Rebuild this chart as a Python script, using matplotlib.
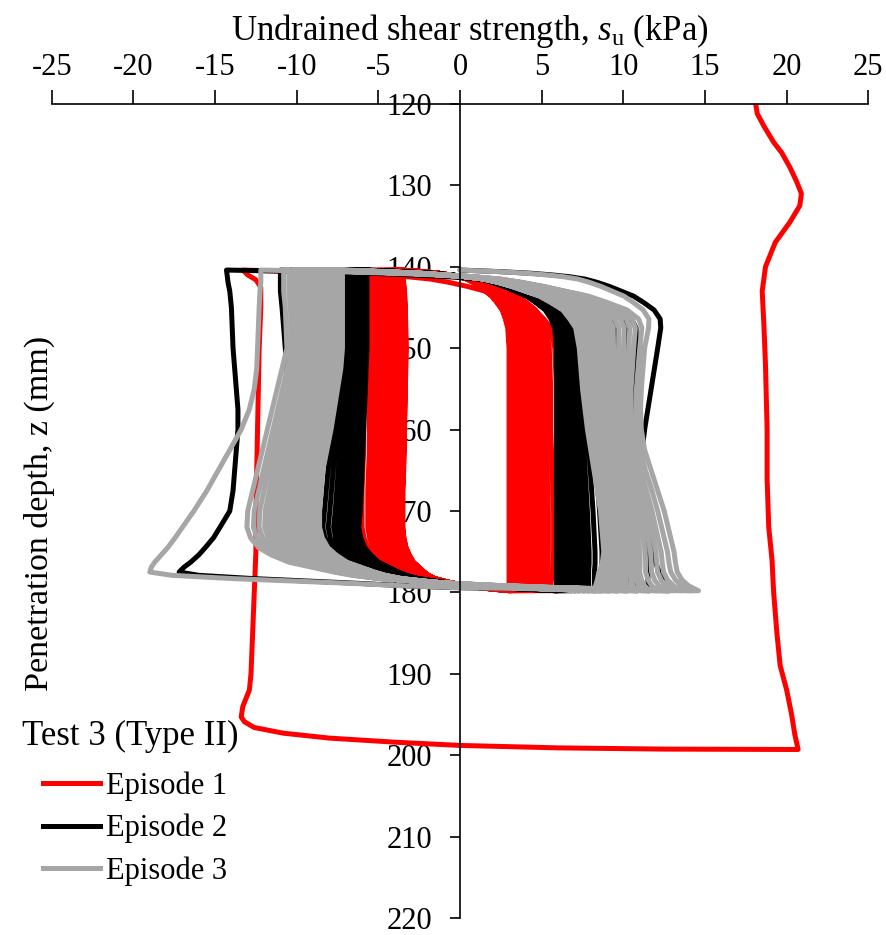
import numpy as np
import matplotlib
matplotlib.use("Agg")
import matplotlib.pyplot as plt
from matplotlib.lines import Line2D

plt.rcParams['font.family'] = ['Liberation Serif', 'DejaVu Serif']
plt.rcParams['mathtext.fontset'] = 'custom'
plt.rcParams['mathtext.rm'] = 'Liberation Serif'
plt.rcParams['mathtext.it'] = 'Liberation Serif:italic'
plt.rcParams['axes.unicode_minus'] = False

# ---------------- data ----------------
# Episode 1 monotonic penetration (z in mm, su in kPa)
Z_MONO = [120, 121.2, 122.7, 124.7, 126, 127.8, 129.5, 131, 132.5, 134.5, 137, 140,
          143, 147, 152, 160, 166, 172, 176, 180, 185, 189, 192, 195, 197.5, 199.3]
SU_MONO = [18.1, 18.2, 18.6, 19.2, 19.7, 20.2, 20.6, 20.9, 20.8, 20.2, 19.3, 18.7,
           18.5, 18.6, 18.7, 18.8, 18.8, 18.9, 19.1, 19.2, 19.4, 19.6, 20.0, 20.3, 20.5, 20.7]
# Episode 1 monotonic extraction
Z_MEXT = [199.3, 199.25, 199.1, 198.8, 198.4, 197.9, 197.3, 196.6, 195.9, 195.3, 194, 192,
          190, 185, 180, 175, 170, 160, 150, 145, 142.5, 141.6, 141.0, 140.4]
SU_MEXT = [20.7, 12.5, 6.0, 0.0, -4.0, -8.0, -10.8, -12.6, -13.2, -13.4, -13.3, -12.9,
           -12.8, -12.7, -12.6, -12.5, -12.5, -12.4, -12.3, -12.2, -12.2, -12.5, -13.0, -13.3]

# Cyclic penetration strokes (140 -> 180 mm); G = share of the reversal completed
Z_PEN = [140.4, 140.6, 140.8, 141.0, 141.2, 141.5, 141.9, 142.4, 142.9, 143.6, 144.4, 145.3,
         146.4, 147.5, 150, 152.5, 155, 157.5, 160, 162.5, 165, 167.5, 170, 172.5, 175,
         176.5, 177.5, 178.5, 179.2, 179.8]
G_PEN = [0, 0.2, 0.35, 0.45, 0.53, 0.61, 0.67, 0.73, 0.78, 0.85, 0.90, 0.95,
         0.98, 0.995, 1, 1, 1, 1, 1, 1, 1, 1, 1, 1, 1, 1, 1, 1, 1, 1]
# Cyclic extraction strokes (180 -> 140 mm)
Z_EXT = [179.8, 179.6, 179.4, 179.15, 178.9, 178.6, 178.3, 177.9, 177.5, 176.9, 176.3, 175.4,
         174.5, 173.3, 172, 170, 167.5, 165, 162.5, 160, 157.5, 155, 152.5, 150, 147.5,
         145, 143, 142, 141.2, 140.4]
G_EXT = [0, 0.16, 0.30, 0.43, 0.53, 0.62, 0.70, 0.76, 0.80, 0.85, 0.90, 0.94,
         0.97, 0.99, 1, 1, 1, 1, 1, 1, 1, 1, 1, 1, 1, 1, 1, 1, 1, 1]
G_EXT_FIRST = [0, 0.25, 0.45, 0.55, 0.63, 0.74, 0.85, 0.96, 1, 1, 1, 1,
               1, 1, 1, 1, 1, 1, 1, 1, 1, 1, 1, 1, 1, 1, 1, 1, 1, 1]

# steady penetration profiles at Z_PEN[12:] (146.4 ... 179.8 mm)
RED_PEN_OUTER = [5.5, 5.65, 5.8, 5.85, 5.9, 5.9, 5.9, 5.95, 6.0, 6.05, 6.1, 6.1, 6.1, 6.05, 6.0, 5.95, 5.9, 5.8]
RED_PEN_INNER = [2.9, 2.95, 3.0, 3.0, 3.0, 3.0, 3.0, 3.0, 3.0, 3.0, 3.0, 3.0, 3.0, 3.0, 3.0, 3.0, 3.0, 3.0]
BLACK_PEN_FIRST = [12.5, 12.35, 12.1, 11.9, 11.7, 11.5, 11.3, 11.15, 11.1, 11.15, 11.3, 11.5, 11.8, 12.0, 12.2, 12.4, 12.6, 12.8]
BLACK_PEN_OUTER = [11.0, 10.9, 10.8, 10.7, 10.6, 10.6, 10.6, 10.7, 10.9, 11.1, 11.3, 11.45, 11.6, 11.6, 11.5, 11.5, 11.55, 11.6]
BLACK_PEN_INNER = [5.8, 5.85, 5.9, 5.9, 5.9, 5.9, 5.9, 5.9, 5.9, 5.9, 5.9, 5.9, 5.9, 5.9, 5.9, 5.9, 5.9, 5.9]
GRAY_PEN_FIRST = [11.8, 11.6, 11.3, 11.2, 11.1, 11.05, 11.1, 11.3, 11.7, 12.1, 12.5, 12.8, 13.1, 13.2, 13.3, 13.6, 14.0, 14.6]
GRAY_PEN_OUTER = [11.4, 11.25, 11.0, 10.9, 10.8, 10.75, 10.8, 11.0, 11.35, 11.75, 12.1, 12.4, 12.7, 12.8, 12.9, 13.2, 13.6, 14.2]
GRAY_PEN_INNER = [7.0, 7.15, 7.3, 7.4, 7.5, 7.65, 7.8, 8.0, 8.2, 8.4, 8.6, 8.7, 8.8, 8.7, 8.5, 8.4, 8.3, 8.2]

# steady extraction profiles at Z_EXT[8:] (177.5 ... 140.4 mm)
RED_EXT_OUTER = [-5.8, -5.85, -5.9, -5.95, -6.0, -6.0, -6.0, -6.0, -6.0, -5.95, -5.9, -5.9,
                 -5.9, -5.9, -5.9, -5.9, -5.9, -5.9, -5.9, -5.9, -5.9, -5.9]
RED_EXT_INNER = [-3.5, -3.5, -3.5, -3.5, -3.5, -3.5, -3.5, -3.5, -3.5, -3.45, -3.42, -3.4,
                 -3.37, -3.35, -3.32, -3.3, -3.32, -3.35, -3.4, -3.45, -3.5, -3.5]
BLACK_EXT_FIRST = [-17.2, -16.9, -16.5, -16.0, -15.6, -15.1, -14.7, -14.1, -13.9, -13.8, -13.7, -13.6,
                   -13.6, -13.7, -13.8, -13.9, -13.95, -14.0, -14.1, -14.2, -14.25, -14.3]
BLACK_EXT_OUTER = [-12.0, -12.0, -12.0, -11.9, -11.8, -11.7, -11.6, -11.5, -11.3, -11.1, -10.9, -10.8,
                   -10.7, -10.6, -10.6, -10.7, -10.8, -10.9, -11.0, -11.0, -11.0, -11.0]
BLACK_EXT_INNER = [-6.2, -6.2, -6.2, -6.2, -6.2, -6.2, -6.2, -6.1, -6.05, -6.0, -5.95, -5.9,
                   -5.85, -5.8, -5.75, -5.7, -5.7, -5.7, -5.7, -5.7, -5.7, -5.7]
GRAY_EXT_FIRST = [-19.0, -18.9, -18.7, -18.3, -17.9, -17.45, -17.0, -16.3, -15.5, -14.8, -14.1, -13.4,
                  -12.9, -12.6, -12.45, -12.4, -12.35, -12.3, -12.25, -12.2, -12.2, -12.2]
GRAY_EXT_OUTER = [-13.2, -13.2, -13.2, -13.2, -13.15, -13.1, -13.05, -13.0, -12.7, -12.4, -12.1, -11.8,
                  -11.5, -11.2, -10.9, -10.6, -10.65, -10.7, -10.8, -10.8, -10.8, -10.8]
GRAY_EXT_INNER = [-8.6, -8.6, -8.6, -8.6, -8.6, -8.6, -8.6, -8.6, -8.5, -8.4, -8.15, -7.9,
                  -7.7, -7.5, -7.3, -7.2, -7.2, -7.2, -7.2, -7.2, -7.2, -7.2]

# strength of each cycle read at z = 160 mm
RED_PEN_160 = [5.9, 5.55, 5.25, 5.0, 4.75, 4.55, 4.35, 4.15, 4.0, 3.85, 3.72, 3.6, 3.5, 3.4, 3.3, 3.22, 3.15, 3.1, 3.05, 3.0]
RED_EXT_160 = [-5.9, -5.55, -5.25, -5.0, -4.78, -4.58, -4.4, -4.25, -4.1, -3.98, -3.87, -3.78, -3.7, -3.63, -3.57, -3.52, -3.48, -3.45, -3.42, -3.4]
BLACK_PEN_160 = [11.3, 10.6, 10.0, 9.5, 9.0, 8.6, 8.2, 7.85, 7.55, 7.3, 7.05, 6.85, 6.65, 6.5, 6.35, 6.22, 6.1, 6.0, 5.95, 5.9]
BLACK_EXT_160 = [-13.6, -10.8, -10.2, -9.6, -9.1, -8.65, -8.25, -7.9, -7.6, -7.3, -7.05, -6.85, -6.65, -6.5, -6.35, -6.2, -6.1, -6.0, -5.95, -5.9]
GRAY_PEN_160 = [11.1, 10.8, 10.5, 10.25, 10.0, 9.75, 9.5, 9.3, 9.1, 8.9, 8.75, 8.6, 8.45, 8.3, 8.2, 8.1, 8.0, 7.93, 7.86, 7.8]
GRAY_EXT_160 = [-13.4, -11.8, -11.45, -11.15, -10.85, -10.6, -10.35, -10.1, -9.85, -9.6, -9.4, -9.2, -9.0, -8.8, -8.6, -8.45, -8.3, -8.15, -8.0, -7.9]

EPISODES = ["Episode 1", "Episode 2", "Episode 3"]
COLORS = ["#FF0000", "#000000", "#A6A6A6"]
X_TICKS = list(range(-25, 30, 5))
Y_TICKS = list(range(120, 230, 10))


def full_pen(profile):
    p = np.asarray(profile, float)
    return np.concatenate([np.full(12, p[0]), p])


def full_ext(profile):
    p = np.asarray(profile, float)
    return np.concatenate([np.full(8, p[0]), p])


def build_cycles(pen_outer, pen_inner, pen160, ext_outer, ext_inner, ext160, start,
                 pen_first=None, ext_first=None):
    zp, ze = np.array(Z_PEN), np.array(Z_EXT)
    po, pi = full_pen(pen_outer), full_pen(pen_inner)
    eo, ei = full_ext(ext_outer), full_ext(ext_inner)
    ip, ie = Z_PEN.index(160), Z_EXT.index(160)
    zs, ss = [], []
    prev = start
    for c in range(len(pen160)):
        if c == 0 and pen_first is not None:
            steady = full_pen(pen_first)
        else:
            w = (pen160[c] - pi[ip]) / (po[ip] - pi[ip])
            steady = pi + w * (po - pi)
        su = prev + (steady - prev) * np.array(G_PEN)
        zs.append(zp); ss.append(su)
        prev = su[-1]
        if c == 0 and ext_first is not None:
            steady = full_ext(ext_first)
            g = np.array(G_EXT_FIRST)
        else:
            w = (ext160[c] - ei[ie]) / (eo[ie] - ei[ie])
            steady = ei + w * (eo - ei)
            g = np.array(G_EXT)
        su = prev + (steady - prev) * g
        zs.append(ze); ss.append(su)
        prev = su[-1]
    return np.concatenate(zs), np.concatenate(ss)


fig = plt.figure(figsize=(8.86, 9.35), dpi=100)
ax = fig.add_axes([0.0584, 0.01818, 0.9217, 0.8706])

lw = 3.6
kw = dict(lw=lw, solid_joinstyle='round', solid_capstyle='round')
# Episode 1
z1, s1 = build_cycles(RED_PEN_OUTER, RED_PEN_INNER, RED_PEN_160,
                      RED_EXT_OUTER, RED_EXT_INNER, RED_EXT_160, SU_MEXT[-1])
z1 = np.concatenate([Z_MONO, Z_MEXT, z1])
s1 = np.concatenate([SU_MONO, SU_MEXT, s1])
ax.plot(s1, z1, color=COLORS[0], **kw)
# Episode 2
z2, s2 = build_cycles(BLACK_PEN_OUTER, BLACK_PEN_INNER, BLACK_PEN_160,
                      BLACK_EXT_OUTER, BLACK_EXT_INNER, BLACK_EXT_160, 0.0,
                      BLACK_PEN_FIRST, BLACK_EXT_FIRST)
ax.plot(s2, z2, color=COLORS[1], **kw)
# Episode 3
z3, s3 = build_cycles(GRAY_PEN_OUTER, GRAY_PEN_INNER, GRAY_PEN_160,
                      GRAY_EXT_OUTER, GRAY_EXT_INNER, GRAY_EXT_160, 0.0,
                      GRAY_PEN_FIRST, GRAY_EXT_FIRST)
ax.plot(s3, z3, color=COLORS[2], **kw)

ax.set_xlim(-25, 25)
ax.set_ylim(220, 120)
ax.set_xticks(X_TICKS)
ax.set_xticklabels([str(t) for t in X_TICKS])
ax.set_yticks(Y_TICKS)
ax.set_yticklabels([str(t) for t in Y_TICKS])
ax.xaxis.tick_top()
ax.xaxis.set_label_position('top')
ax.spines['left'].set_position(('data', 0))
ax.spines['right'].set_visible(False)
ax.spines['bottom'].set_visible(False)
for sp in ('left', 'top'):
    ax.spines[sp].set_linewidth(1.2)
ax.tick_params(axis='x', direction='out', length=10, width=1.2, pad=5.5, labelsize=22)
ax.tick_params(axis='y', direction='out', length=7, width=1.2, pad=13, labelsize=22)
ax.patch.set_alpha(0)

ax.set_xlabel("Undrained shear strength, $s_\\mathrm{u}$ (kPa)", fontsize=25)
ax.xaxis.set_label_coords(0.512, 1.079)
ax.set_ylabel("Penetration depth, z (mm)", fontsize=24.5)
ax.yaxis.set_label_coords(0.004, 0.4975)

fig.text(22 / 886, 1 - 745 / 935, "Test 3 (Type II)", fontsize=25, va='baseline', ha='left')
handles = [Line2D([], [], color=c, lw=lw) for c in COLORS]
ax.legend(handles, EPISODES, loc='upper left', bbox_to_anchor=(43 / 886, 1 - 771.5 / 935),
          bbox_transform=fig.transFigure, frameon=False, fontsize=22,
          handlelength=1.87, handletextpad=0.2, labelspacing=0.425,
          borderpad=0, borderaxespad=0)

fig.savefig("out.png", dpi=100)
